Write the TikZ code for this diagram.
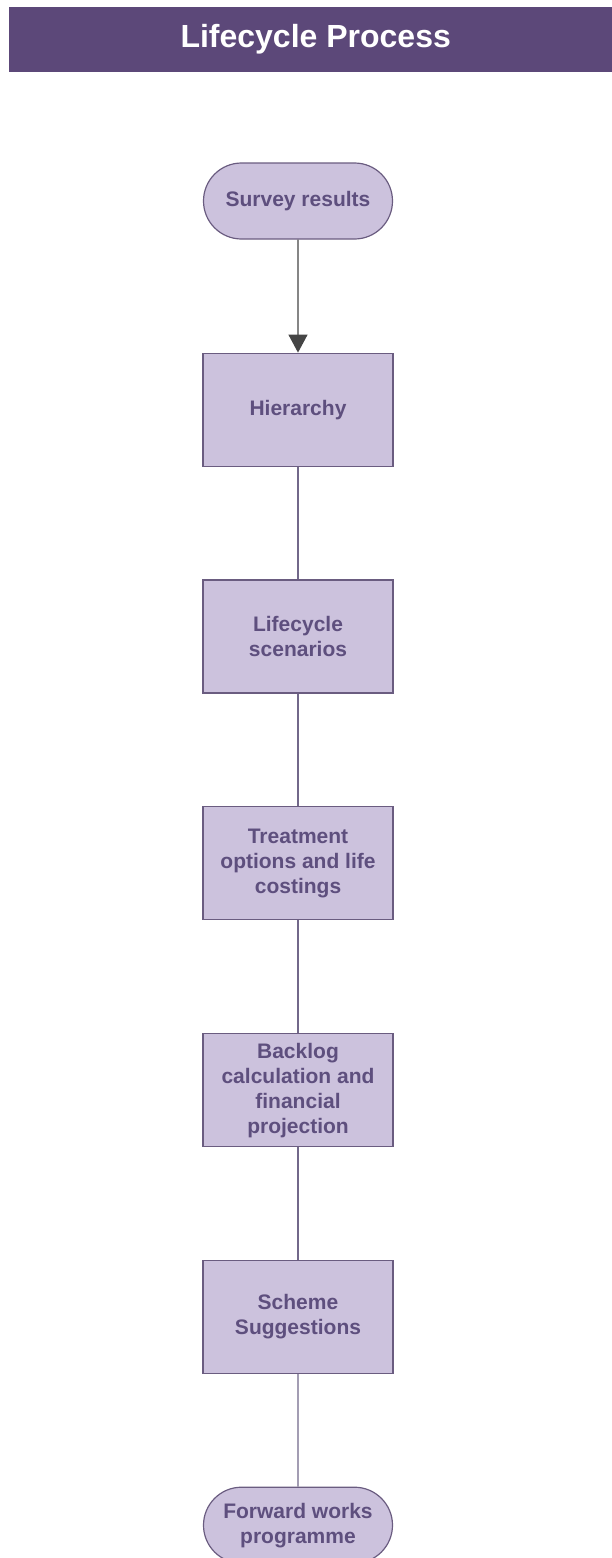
\documentclass[tikz,border=0pt]{standalone}
\usepackage{fontspec}
\setmainfont{Liberation Sans}
\usetikzlibrary{positioning,shapes.misc,arrows.meta}
\definecolor{barpurple}{HTML}{5C4879}
\definecolor{boxfill}{HTML}{CCC2DD}
\definecolor{boxline}{HTML}{6A5C80}
\definecolor{boxtext}{HTML}{5E4F7E}
\definecolor{linkgrey}{HTML}{72688A}
\definecolor{arrowgrey}{HTML}{454545}
\begin{document}
\begin{tikzpicture}[x=1pt, y=-1pt, font=\bfseries\fontsize{21}{25}\selectfont, node distance=112.6pt,
		box/.style={draw=boxline, fill=boxfill, text=boxtext, line width=1.2pt, minimum width=190pt, minimum height=113pt, align=center, inner sep=1pt},
		term/.style={box, rounded rectangle, minimum width=191pt, minimum height=76pt},
		link/.style={draw=linkgrey, line width=1.3pt}]
			\useasboundingbox (0,0) rectangle (612,1558);
			\node[fill=barpurple, text=white, anchor=north west, minimum width=603pt, minimum height=65pt, inner sep=0pt, font=\bfseries\fontsize{32}{36}\selectfont] (title) at (9,7) {\hspace*{10pt}Lifecycle Process};
			\node[term] (survey) at (298,201) {Survey results};
			\node[box, below=113pt of survey] (hier) {Hierarchy};
			\node[box, below=of hier] (scen) {Lifecycle\\scenarios};
			\node[box, below=of scen] (treat) {Treatment\\options and life\\costings};
			\node[box, below=of treat] (backlog) {Backlog\\calculation and\\financial\\projection};
			\node[box, below=of backlog] (scheme) {Scheme\\Suggestions};
			\node[term, below=of scheme] (fwp) {Forward works\\programme};
			\draw[arrowgrey, line width=1.3pt, -{Triangle[length=18pt, width=19pt]}] (survey) -- (hier);
			\draw[link] (hier)--(scen);
			\draw[link] (scen)--(treat);
			\draw[link] (treat)--(backlog);
			\draw[link] (backlog)--(scheme);
			\draw[link] (scheme)--(fwp);
		\end{tikzpicture}
\end{document}
